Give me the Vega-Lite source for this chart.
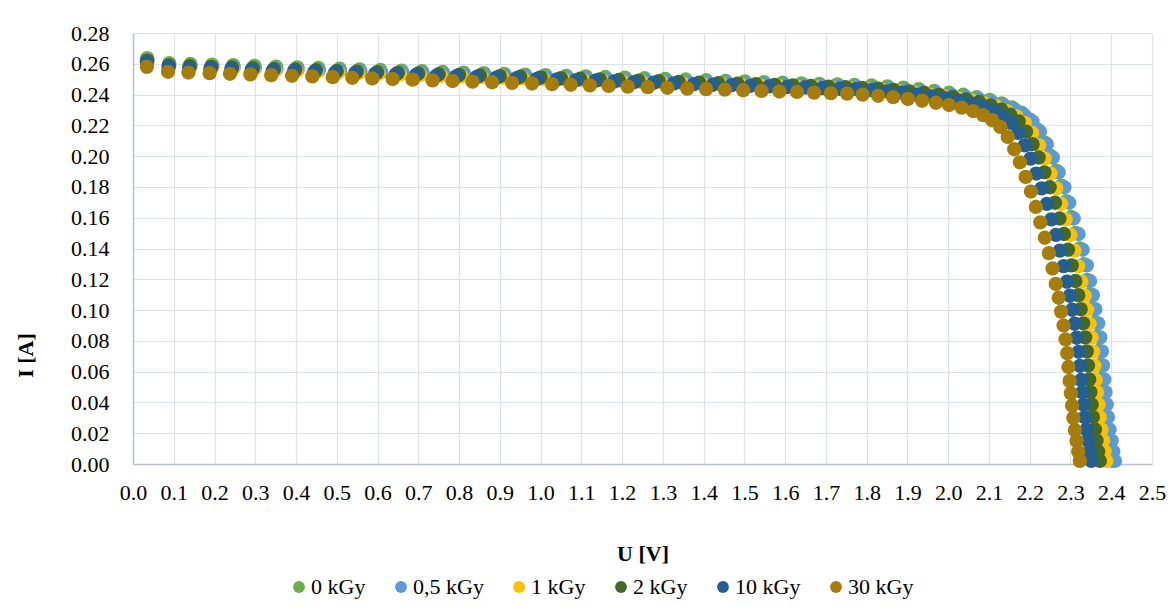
{
"$schema": "https://vega.github.io/schema/vega-lite/v6.json",
"width": 1019, "height": 431,
"autosize": {"type": "none"},
"padding": {"left": 133, "top": 33, "right": 20, "bottom": 145},
"background": "white",
"config": {"view": {"stroke": null}, "font": "Liberation Serif"},
"data": {"values": [
{"s":"0 kGy","u":0.035,"i":0.2637},{"s":"0 kGy","u":0.089,"i":0.2604},{"s":"0 kGy","u":0.141,"i":0.2599},{"s":"0 kGy","u":0.194,"i":0.2595},{"s":"0 kGy","u":0.246,"i":0.2591},{"s":"0 kGy","u":0.298,"i":0.2587},{"s":"0 kGy","u":0.351,"i":0.2582},{"s":"0 kGy","u":0.403,"i":0.2577},{"s":"0 kGy","u":0.455,"i":0.2573},{"s":"0 kGy","u":0.507,"i":0.2568},{"s":"0 kGy","u":0.556,"i":0.2564},{"s":"0 kGy","u":0.607,"i":0.2560},{"s":"0 kGy","u":0.659,"i":0.2556},{"s":"0 kGy","u":0.709,"i":0.2552},{"s":"0 kGy","u":0.760,"i":0.2547},{"s":"0 kGy","u":0.811,"i":0.2543},{"s":"0 kGy","u":0.861,"i":0.2539},{"s":"0 kGy","u":0.911,"i":0.2535},{"s":"0 kGy","u":0.962,"i":0.2530},{"s":"0 kGy","u":1.012,"i":0.2526},{"s":"0 kGy","u":1.063,"i":0.2522},{"s":"0 kGy","u":1.111,"i":0.2518},{"s":"0 kGy","u":1.159,"i":0.2514},{"s":"0 kGy","u":1.207,"i":0.2510},{"s":"0 kGy","u":1.255,"i":0.2506},{"s":"0 kGy","u":1.306,"i":0.2502},{"s":"0 kGy","u":1.356,"i":0.2498},{"s":"0 kGy","u":1.406,"i":0.2493},{"s":"0 kGy","u":1.454,"i":0.2489},{"s":"0 kGy","u":1.501,"i":0.2486},{"s":"0 kGy","u":1.548,"i":0.2481},{"s":"0 kGy","u":1.594,"i":0.2477},{"s":"0 kGy","u":1.640,"i":0.2473},{"s":"0 kGy","u":1.684,"i":0.2470},{"s":"0 kGy","u":1.728,"i":0.2466},{"s":"0 kGy","u":1.770,"i":0.2462},{"s":"0 kGy","u":1.812,"i":0.2459},{"s":"0 kGy","u":1.851,"i":0.2453},{"s":"0 kGy","u":1.890,"i":0.2445},{"s":"0 kGy","u":1.928,"i":0.2435},{"s":"0 kGy","u":1.966,"i":0.2424},{"s":"0 kGy","u":2.002,"i":0.2412},{"s":"0 kGy","u":2.037,"i":0.2399},{"s":"0 kGy","u":2.070,"i":0.2383},{"s":"0 kGy","u":2.102,"i":0.2366},{"s":"0 kGy","u":2.131,"i":0.2343},{"s":"0 kGy","u":2.157,"i":0.2316},{"s":"0 kGy","u":2.180,"i":0.2282},{"s":"0 kGy","u":2.200,"i":0.2238},{"s":"0 kGy","u":2.219,"i":0.2172},{"s":"0 kGy","u":2.236,"i":0.2090},{"s":"0 kGy","u":2.250,"i":0.2003},{"s":"0 kGy","u":2.265,"i":0.1906},{"s":"0 kGy","u":2.278,"i":0.1809},{"s":"0 kGy","u":2.290,"i":0.1707},{"s":"0 kGy","u":2.302,"i":0.1605},{"s":"0 kGy","u":2.313,"i":0.1502},{"s":"0 kGy","u":2.323,"i":0.1400},{"s":"0 kGy","u":2.333,"i":0.1298},{"s":"0 kGy","u":2.341,"i":0.1196},{"s":"0 kGy","u":2.348,"i":0.1104},{"s":"0 kGy","u":2.354,"i":0.1012},{"s":"0 kGy","u":2.361,"i":0.0920},{"s":"0 kGy","u":2.366,"i":0.0828},{"s":"0 kGy","u":2.370,"i":0.0736},{"s":"0 kGy","u":2.373,"i":0.0644},{"s":"0 kGy","u":2.376,"i":0.0552},{"s":"0 kGy","u":2.379,"i":0.0470},{"s":"0 kGy","u":2.382,"i":0.0388},{"s":"0 kGy","u":2.385,"i":0.0307},{"s":"0 kGy","u":2.390,"i":0.0225},{"s":"0 kGy","u":2.394,"i":0.0153},{"s":"0 kGy","u":2.398,"i":0.0082},{"s":"0 kGy","u":2.402,"i":0.0020},
{"s":"0,5 kGy","u":0.035,"i":0.2621},{"s":"0,5 kGy","u":0.089,"i":0.2589},{"s":"0,5 kGy","u":0.141,"i":0.2584},{"s":"0,5 kGy","u":0.195,"i":0.2580},{"s":"0,5 kGy","u":0.247,"i":0.2576},{"s":"0,5 kGy","u":0.299,"i":0.2571},{"s":"0,5 kGy","u":0.352,"i":0.2566},{"s":"0,5 kGy","u":0.404,"i":0.2562},{"s":"0,5 kGy","u":0.456,"i":0.2558},{"s":"0,5 kGy","u":0.508,"i":0.2553},{"s":"0,5 kGy","u":0.558,"i":0.2549},{"s":"0,5 kGy","u":0.609,"i":0.2545},{"s":"0,5 kGy","u":0.661,"i":0.2541},{"s":"0,5 kGy","u":0.711,"i":0.2537},{"s":"0,5 kGy","u":0.762,"i":0.2532},{"s":"0,5 kGy","u":0.813,"i":0.2528},{"s":"0,5 kGy","u":0.864,"i":0.2524},{"s":"0,5 kGy","u":0.914,"i":0.2520},{"s":"0,5 kGy","u":0.964,"i":0.2516},{"s":"0,5 kGy","u":1.015,"i":0.2512},{"s":"0,5 kGy","u":1.066,"i":0.2507},{"s":"0,5 kGy","u":1.114,"i":0.2503},{"s":"0,5 kGy","u":1.163,"i":0.2499},{"s":"0,5 kGy","u":1.210,"i":0.2495},{"s":"0,5 kGy","u":1.259,"i":0.2491},{"s":"0,5 kGy","u":1.310,"i":0.2487},{"s":"0,5 kGy","u":1.360,"i":0.2483},{"s":"0,5 kGy","u":1.410,"i":0.2478},{"s":"0,5 kGy","u":1.458,"i":0.2474},{"s":"0,5 kGy","u":1.506,"i":0.2471},{"s":"0,5 kGy","u":1.552,"i":0.2467},{"s":"0,5 kGy","u":1.599,"i":0.2463},{"s":"0,5 kGy","u":1.645,"i":0.2459},{"s":"0,5 kGy","u":1.689,"i":0.2456},{"s":"0,5 kGy","u":1.733,"i":0.2452},{"s":"0,5 kGy","u":1.775,"i":0.2448},{"s":"0,5 kGy","u":1.817,"i":0.2444},{"s":"0,5 kGy","u":1.856,"i":0.2438},{"s":"0,5 kGy","u":1.896,"i":0.2430},{"s":"0,5 kGy","u":1.934,"i":0.2421},{"s":"0,5 kGy","u":1.971,"i":0.2410},{"s":"0,5 kGy","u":2.008,"i":0.2398},{"s":"0,5 kGy","u":2.043,"i":0.2385},{"s":"0,5 kGy","u":2.076,"i":0.2369},{"s":"0,5 kGy","u":2.108,"i":0.2352},{"s":"0,5 kGy","u":2.137,"i":0.2330},{"s":"0,5 kGy","u":2.163,"i":0.2302},{"s":"0,5 kGy","u":2.186,"i":0.2269},{"s":"0,5 kGy","u":2.207,"i":0.2225},{"s":"0,5 kGy","u":2.225,"i":0.2159},{"s":"0,5 kGy","u":2.242,"i":0.2078},{"s":"0,5 kGy","u":2.257,"i":0.1991},{"s":"0,5 kGy","u":2.271,"i":0.1895},{"s":"0,5 kGy","u":2.285,"i":0.1798},{"s":"0,5 kGy","u":2.297,"i":0.1697},{"s":"0,5 kGy","u":2.308,"i":0.1595},{"s":"0,5 kGy","u":2.320,"i":0.1494},{"s":"0,5 kGy","u":2.330,"i":0.1392},{"s":"0,5 kGy","u":2.340,"i":0.1290},{"s":"0,5 kGy","u":2.348,"i":0.1189},{"s":"0,5 kGy","u":2.355,"i":0.1097},{"s":"0,5 kGy","u":2.361,"i":0.1006},{"s":"0,5 kGy","u":2.368,"i":0.0914},{"s":"0,5 kGy","u":2.373,"i":0.0823},{"s":"0,5 kGy","u":2.377,"i":0.0732},{"s":"0,5 kGy","u":2.380,"i":0.0640},{"s":"0,5 kGy","u":2.383,"i":0.0549},{"s":"0,5 kGy","u":2.386,"i":0.0467},{"s":"0,5 kGy","u":2.389,"i":0.0386},{"s":"0,5 kGy","u":2.392,"i":0.0305},{"s":"0,5 kGy","u":2.396,"i":0.0224},{"s":"0,5 kGy","u":2.401,"i":0.0152},{"s":"0,5 kGy","u":2.405,"i":0.0081},{"s":"0,5 kGy","u":2.409,"i":0.0020},
{"s":"1 kGy","u":0.035,"i":0.2611},{"s":"1 kGy","u":0.088,"i":0.2579},{"s":"1 kGy","u":0.140,"i":0.2574},{"s":"1 kGy","u":0.193,"i":0.2569},{"s":"1 kGy","u":0.245,"i":0.2565},{"s":"1 kGy","u":0.296,"i":0.2561},{"s":"1 kGy","u":0.349,"i":0.2556},{"s":"1 kGy","u":0.401,"i":0.2552},{"s":"1 kGy","u":0.452,"i":0.2548},{"s":"1 kGy","u":0.504,"i":0.2543},{"s":"1 kGy","u":0.553,"i":0.2539},{"s":"1 kGy","u":0.603,"i":0.2535},{"s":"1 kGy","u":0.655,"i":0.2531},{"s":"1 kGy","u":0.705,"i":0.2527},{"s":"1 kGy","u":0.756,"i":0.2522},{"s":"1 kGy","u":0.806,"i":0.2518},{"s":"1 kGy","u":0.856,"i":0.2514},{"s":"1 kGy","u":0.906,"i":0.2510},{"s":"1 kGy","u":0.956,"i":0.2506},{"s":"1 kGy","u":1.006,"i":0.2502},{"s":"1 kGy","u":1.057,"i":0.2498},{"s":"1 kGy","u":1.104,"i":0.2494},{"s":"1 kGy","u":1.152,"i":0.2490},{"s":"1 kGy","u":1.200,"i":0.2485},{"s":"1 kGy","u":1.248,"i":0.2481},{"s":"1 kGy","u":1.298,"i":0.2477},{"s":"1 kGy","u":1.348,"i":0.2473},{"s":"1 kGy","u":1.398,"i":0.2468},{"s":"1 kGy","u":1.445,"i":0.2464},{"s":"1 kGy","u":1.493,"i":0.2461},{"s":"1 kGy","u":1.539,"i":0.2457},{"s":"1 kGy","u":1.585,"i":0.2453},{"s":"1 kGy","u":1.630,"i":0.2449},{"s":"1 kGy","u":1.675,"i":0.2446},{"s":"1 kGy","u":1.718,"i":0.2442},{"s":"1 kGy","u":1.760,"i":0.2438},{"s":"1 kGy","u":1.801,"i":0.2435},{"s":"1 kGy","u":1.840,"i":0.2429},{"s":"1 kGy","u":1.879,"i":0.2421},{"s":"1 kGy","u":1.917,"i":0.2412},{"s":"1 kGy","u":1.954,"i":0.2400},{"s":"1 kGy","u":1.990,"i":0.2388},{"s":"1 kGy","u":2.025,"i":0.2375},{"s":"1 kGy","u":2.058,"i":0.2360},{"s":"1 kGy","u":2.090,"i":0.2343},{"s":"1 kGy","u":2.119,"i":0.2321},{"s":"1 kGy","u":2.144,"i":0.2293},{"s":"1 kGy","u":2.167,"i":0.2260},{"s":"1 kGy","u":2.188,"i":0.2216},{"s":"1 kGy","u":2.206,"i":0.2151},{"s":"1 kGy","u":2.223,"i":0.2070},{"s":"1 kGy","u":2.237,"i":0.1984},{"s":"1 kGy","u":2.251,"i":0.1887},{"s":"1 kGy","u":2.265,"i":0.1791},{"s":"1 kGy","u":2.277,"i":0.1690},{"s":"1 kGy","u":2.288,"i":0.1589},{"s":"1 kGy","u":2.300,"i":0.1488},{"s":"1 kGy","u":2.310,"i":0.1386},{"s":"1 kGy","u":2.319,"i":0.1285},{"s":"1 kGy","u":2.327,"i":0.1184},{"s":"1 kGy","u":2.335,"i":0.1093},{"s":"1 kGy","u":2.341,"i":0.1002},{"s":"1 kGy","u":2.347,"i":0.0911},{"s":"1 kGy","u":2.352,"i":0.0820},{"s":"1 kGy","u":2.356,"i":0.0729},{"s":"1 kGy","u":2.359,"i":0.0638},{"s":"1 kGy","u":2.362,"i":0.0546},{"s":"1 kGy","u":2.365,"i":0.0466},{"s":"1 kGy","u":2.369,"i":0.0385},{"s":"1 kGy","u":2.372,"i":0.0304},{"s":"1 kGy","u":2.376,"i":0.0223},{"s":"1 kGy","u":2.380,"i":0.0152},{"s":"1 kGy","u":2.384,"i":0.0081},{"s":"1 kGy","u":2.388,"i":0.0020},
{"s":"2 kGy","u":0.035,"i":0.2621},{"s":"2 kGy","u":0.088,"i":0.2589},{"s":"2 kGy","u":0.139,"i":0.2584},{"s":"2 kGy","u":0.192,"i":0.2580},{"s":"2 kGy","u":0.243,"i":0.2576},{"s":"2 kGy","u":0.294,"i":0.2571},{"s":"2 kGy","u":0.346,"i":0.2566},{"s":"2 kGy","u":0.398,"i":0.2562},{"s":"2 kGy","u":0.449,"i":0.2558},{"s":"2 kGy","u":0.500,"i":0.2553},{"s":"2 kGy","u":0.549,"i":0.2549},{"s":"2 kGy","u":0.599,"i":0.2545},{"s":"2 kGy","u":0.650,"i":0.2541},{"s":"2 kGy","u":0.700,"i":0.2537},{"s":"2 kGy","u":0.750,"i":0.2532},{"s":"2 kGy","u":0.800,"i":0.2528},{"s":"2 kGy","u":0.851,"i":0.2524},{"s":"2 kGy","u":0.900,"i":0.2520},{"s":"2 kGy","u":0.950,"i":0.2516},{"s":"2 kGy","u":1.000,"i":0.2512},{"s":"2 kGy","u":1.050,"i":0.2507},{"s":"2 kGy","u":1.097,"i":0.2503},{"s":"2 kGy","u":1.145,"i":0.2499},{"s":"2 kGy","u":1.192,"i":0.2495},{"s":"2 kGy","u":1.240,"i":0.2491},{"s":"2 kGy","u":1.290,"i":0.2487},{"s":"2 kGy","u":1.339,"i":0.2483},{"s":"2 kGy","u":1.389,"i":0.2478},{"s":"2 kGy","u":1.436,"i":0.2474},{"s":"2 kGy","u":1.483,"i":0.2471},{"s":"2 kGy","u":1.528,"i":0.2467},{"s":"2 kGy","u":1.574,"i":0.2463},{"s":"2 kGy","u":1.619,"i":0.2459},{"s":"2 kGy","u":1.663,"i":0.2456},{"s":"2 kGy","u":1.706,"i":0.2452},{"s":"2 kGy","u":1.748,"i":0.2448},{"s":"2 kGy","u":1.789,"i":0.2444},{"s":"2 kGy","u":1.828,"i":0.2438},{"s":"2 kGy","u":1.866,"i":0.2430},{"s":"2 kGy","u":1.904,"i":0.2421},{"s":"2 kGy","u":1.941,"i":0.2410},{"s":"2 kGy","u":1.977,"i":0.2398},{"s":"2 kGy","u":2.011,"i":0.2385},{"s":"2 kGy","u":2.044,"i":0.2369},{"s":"2 kGy","u":2.076,"i":0.2352},{"s":"2 kGy","u":2.104,"i":0.2330},{"s":"2 kGy","u":2.130,"i":0.2302},{"s":"2 kGy","u":2.152,"i":0.2269},{"s":"2 kGy","u":2.173,"i":0.2225},{"s":"2 kGy","u":2.191,"i":0.2159},{"s":"2 kGy","u":2.207,"i":0.2078},{"s":"2 kGy","u":2.222,"i":0.1991},{"s":"2 kGy","u":2.236,"i":0.1895},{"s":"2 kGy","u":2.249,"i":0.1798},{"s":"2 kGy","u":2.262,"i":0.1697},{"s":"2 kGy","u":2.273,"i":0.1595},{"s":"2 kGy","u":2.284,"i":0.1494},{"s":"2 kGy","u":2.294,"i":0.1392},{"s":"2 kGy","u":2.303,"i":0.1290},{"s":"2 kGy","u":2.312,"i":0.1189},{"s":"2 kGy","u":2.319,"i":0.1097},{"s":"2 kGy","u":2.325,"i":0.1006},{"s":"2 kGy","u":2.331,"i":0.0914},{"s":"2 kGy","u":2.336,"i":0.0823},{"s":"2 kGy","u":2.340,"i":0.0732},{"s":"2 kGy","u":2.343,"i":0.0640},{"s":"2 kGy","u":2.346,"i":0.0549},{"s":"2 kGy","u":2.349,"i":0.0467},{"s":"2 kGy","u":2.352,"i":0.0386},{"s":"2 kGy","u":2.355,"i":0.0305},{"s":"2 kGy","u":2.360,"i":0.0224},{"s":"2 kGy","u":2.364,"i":0.0152},{"s":"2 kGy","u":2.368,"i":0.0081},{"s":"2 kGy","u":2.372,"i":0.0020},
{"s":"10 kGy","u":0.034,"i":0.2611},{"s":"10 kGy","u":0.087,"i":0.2579},{"s":"10 kGy","u":0.138,"i":0.2574},{"s":"10 kGy","u":0.190,"i":0.2569},{"s":"10 kGy","u":0.241,"i":0.2565},{"s":"10 kGy","u":0.291,"i":0.2561},{"s":"10 kGy","u":0.343,"i":0.2556},{"s":"10 kGy","u":0.395,"i":0.2552},{"s":"10 kGy","u":0.445,"i":0.2548},{"s":"10 kGy","u":0.496,"i":0.2543},{"s":"10 kGy","u":0.545,"i":0.2539},{"s":"10 kGy","u":0.594,"i":0.2535},{"s":"10 kGy","u":0.645,"i":0.2531},{"s":"10 kGy","u":0.694,"i":0.2527},{"s":"10 kGy","u":0.744,"i":0.2522},{"s":"10 kGy","u":0.793,"i":0.2518},{"s":"10 kGy","u":0.843,"i":0.2514},{"s":"10 kGy","u":0.892,"i":0.2510},{"s":"10 kGy","u":0.941,"i":0.2506},{"s":"10 kGy","u":0.991,"i":0.2502},{"s":"10 kGy","u":1.040,"i":0.2498},{"s":"10 kGy","u":1.087,"i":0.2494},{"s":"10 kGy","u":1.135,"i":0.2490},{"s":"10 kGy","u":1.181,"i":0.2485},{"s":"10 kGy","u":1.229,"i":0.2481},{"s":"10 kGy","u":1.278,"i":0.2477},{"s":"10 kGy","u":1.327,"i":0.2473},{"s":"10 kGy","u":1.376,"i":0.2468},{"s":"10 kGy","u":1.423,"i":0.2464},{"s":"10 kGy","u":1.469,"i":0.2461},{"s":"10 kGy","u":1.515,"i":0.2457},{"s":"10 kGy","u":1.561,"i":0.2453},{"s":"10 kGy","u":1.605,"i":0.2449},{"s":"10 kGy","u":1.649,"i":0.2446},{"s":"10 kGy","u":1.691,"i":0.2442},{"s":"10 kGy","u":1.733,"i":0.2438},{"s":"10 kGy","u":1.773,"i":0.2435},{"s":"10 kGy","u":1.812,"i":0.2429},{"s":"10 kGy","u":1.850,"i":0.2421},{"s":"10 kGy","u":1.887,"i":0.2412},{"s":"10 kGy","u":1.924,"i":0.2400},{"s":"10 kGy","u":1.959,"i":0.2388},{"s":"10 kGy","u":1.994,"i":0.2375},{"s":"10 kGy","u":2.026,"i":0.2360},{"s":"10 kGy","u":2.057,"i":0.2343},{"s":"10 kGy","u":2.086,"i":0.2321},{"s":"10 kGy","u":2.111,"i":0.2293},{"s":"10 kGy","u":2.133,"i":0.2260},{"s":"10 kGy","u":2.154,"i":0.2216},{"s":"10 kGy","u":2.172,"i":0.2151},{"s":"10 kGy","u":2.188,"i":0.2070},{"s":"10 kGy","u":2.202,"i":0.1984},{"s":"10 kGy","u":2.216,"i":0.1887},{"s":"10 kGy","u":2.229,"i":0.1791},{"s":"10 kGy","u":2.242,"i":0.1690},{"s":"10 kGy","u":2.253,"i":0.1589},{"s":"10 kGy","u":2.264,"i":0.1488},{"s":"10 kGy","u":2.274,"i":0.1386},{"s":"10 kGy","u":2.283,"i":0.1285},{"s":"10 kGy","u":2.291,"i":0.1184},{"s":"10 kGy","u":2.298,"i":0.1093},{"s":"10 kGy","u":2.304,"i":0.1002},{"s":"10 kGy","u":2.310,"i":0.0911},{"s":"10 kGy","u":2.315,"i":0.0820},{"s":"10 kGy","u":2.320,"i":0.0729},{"s":"10 kGy","u":2.323,"i":0.0638},{"s":"10 kGy","u":2.326,"i":0.0546},{"s":"10 kGy","u":2.329,"i":0.0466},{"s":"10 kGy","u":2.332,"i":0.0385},{"s":"10 kGy","u":2.335,"i":0.0304},{"s":"10 kGy","u":2.339,"i":0.0223},{"s":"10 kGy","u":2.343,"i":0.0152},{"s":"10 kGy","u":2.347,"i":0.0081},{"s":"10 kGy","u":2.351,"i":0.0020},
{"s":"30 kGy","u":0.034,"i":0.2580},{"s":"30 kGy","u":0.086,"i":0.2548},{"s":"30 kGy","u":0.136,"i":0.2543},{"s":"30 kGy","u":0.188,"i":0.2539},{"s":"30 kGy","u":0.238,"i":0.2535},{"s":"30 kGy","u":0.288,"i":0.2531},{"s":"30 kGy","u":0.339,"i":0.2526},{"s":"30 kGy","u":0.390,"i":0.2522},{"s":"30 kGy","u":0.440,"i":0.2518},{"s":"30 kGy","u":0.490,"i":0.2513},{"s":"30 kGy","u":0.538,"i":0.2509},{"s":"30 kGy","u":0.587,"i":0.2505},{"s":"30 kGy","u":0.637,"i":0.2501},{"s":"30 kGy","u":0.686,"i":0.2497},{"s":"30 kGy","u":0.735,"i":0.2492},{"s":"30 kGy","u":0.784,"i":0.2488},{"s":"30 kGy","u":0.833,"i":0.2484},{"s":"30 kGy","u":0.881,"i":0.2480},{"s":"30 kGy","u":0.930,"i":0.2476},{"s":"30 kGy","u":0.979,"i":0.2472},{"s":"30 kGy","u":1.028,"i":0.2468},{"s":"30 kGy","u":1.074,"i":0.2464},{"s":"30 kGy","u":1.121,"i":0.2460},{"s":"30 kGy","u":1.167,"i":0.2456},{"s":"30 kGy","u":1.214,"i":0.2452},{"s":"30 kGy","u":1.263,"i":0.2448},{"s":"30 kGy","u":1.311,"i":0.2444},{"s":"30 kGy","u":1.360,"i":0.2439},{"s":"30 kGy","u":1.406,"i":0.2435},{"s":"30 kGy","u":1.452,"i":0.2432},{"s":"30 kGy","u":1.497,"i":0.2428},{"s":"30 kGy","u":1.542,"i":0.2424},{"s":"30 kGy","u":1.586,"i":0.2420},{"s":"30 kGy","u":1.629,"i":0.2417},{"s":"30 kGy","u":1.671,"i":0.2413},{"s":"30 kGy","u":1.712,"i":0.2409},{"s":"30 kGy","u":1.752,"i":0.2406},{"s":"30 kGy","u":1.790,"i":0.2400},{"s":"30 kGy","u":1.828,"i":0.2392},{"s":"30 kGy","u":1.865,"i":0.2383},{"s":"30 kGy","u":1.901,"i":0.2372},{"s":"30 kGy","u":1.936,"i":0.2360},{"s":"30 kGy","u":1.970,"i":0.2347},{"s":"30 kGy","u":2.002,"i":0.2332},{"s":"30 kGy","u":2.033,"i":0.2315},{"s":"30 kGy","u":2.061,"i":0.2293},{"s":"30 kGy","u":2.086,"i":0.2266},{"s":"30 kGy","u":2.108,"i":0.2233},{"s":"30 kGy","u":2.128,"i":0.2190},{"s":"30 kGy","u":2.146,"i":0.2125},{"s":"30 kGy","u":2.162,"i":0.2045},{"s":"30 kGy","u":2.176,"i":0.1960},{"s":"30 kGy","u":2.190,"i":0.1865},{"s":"30 kGy","u":2.203,"i":0.1770},{"s":"30 kGy","u":2.215,"i":0.1670},{"s":"30 kGy","u":2.226,"i":0.1570},{"s":"30 kGy","u":2.237,"i":0.1470},{"s":"30 kGy","u":2.247,"i":0.1370},{"s":"30 kGy","u":2.256,"i":0.1270},{"s":"30 kGy","u":2.264,"i":0.1170},{"s":"30 kGy","u":2.271,"i":0.1080},{"s":"30 kGy","u":2.277,"i":0.0990},{"s":"30 kGy","u":2.283,"i":0.0900},{"s":"30 kGy","u":2.288,"i":0.0810},{"s":"30 kGy","u":2.292,"i":0.0720},{"s":"30 kGy","u":2.295,"i":0.0630},{"s":"30 kGy","u":2.298,"i":0.0540},{"s":"30 kGy","u":2.301,"i":0.0460},{"s":"30 kGy","u":2.304,"i":0.0380},{"s":"30 kGy","u":2.307,"i":0.0300},{"s":"30 kGy","u":2.311,"i":0.0220},{"s":"30 kGy","u":2.315,"i":0.0150},{"s":"30 kGy","u":2.319,"i":0.0080},{"s":"30 kGy","u":2.323,"i":0.0020}
]},
"mark": {"type": "point", "filled": true, "opacity": 1, "size": 205, "shape": "circle", "strokeWidth": 0},
"encoding": {
  "x": {"field": "u", "type": "quantitative",
    "scale": {"domain": [0, 2.5], "nice": false, "zero": false},
    "axis": {"title": "U [V]", "values": [0,0.1,0.2,0.3,0.4,0.5,0.6,0.7,0.8,0.9,1.0,1.1,1.2,1.3,1.4,1.5,1.6,1.7,1.8,1.9,2.0,2.1,2.2,2.3,2.4,2.5],
      "format": ".1f", "labelFont": "Liberation Serif", "labelFontSize": 22, "labelColor": "#000000",
      "labelPadding": 28, "labelBaseline": "middle", "labelFlush": false, "labelOverlap": false, "labelBound": false,
      "ticks": false, "domainColor": "#B9C1CE", "domainWidth": 1.5, "grid": true, "gridColor": "#DDE1E9", "gridWidth": 1.2,
      "titleFont": "Liberation Serif", "titleFontSize": 22, "titleFontWeight": "bold", "titleColor": "#000000",
      "titleY": 89, "titleBaseline": "middle"}},
  "y": {"field": "i", "type": "quantitative",
    "scale": {"domain": [0, 0.28], "nice": false, "zero": false},
    "axis": {"title": "I [A]", "values": [0,0.02,0.04,0.06,0.08,0.10,0.12,0.14,0.16,0.18,0.20,0.22,0.24,0.26,0.28],
      "format": ".2f", "labelFont": "Liberation Serif", "labelFontSize": 22, "labelColor": "#000000",
      "labelPadding": 24, "labelFlush": false, "labelOverlap": false, "labelBound": false,
      "ticks": false, "domainColor": "#B9C1CE", "domainWidth": 1.5, "grid": true, "gridColor": "#DDE1E9", "gridWidth": 1.2,
      "titleFont": "Liberation Serif", "titleFontSize": 22, "titleFontWeight": "bold", "titleColor": "#000000",
      "titleX": -108, "titleY": 322, "titleAngle": -90, "titleAlign": "center", "titleBaseline": "middle"}},
  "color": {"field": "s", "type": "nominal",
    "scale": {"domain": ["0 kGy", "0,5 kGy", "1 kGy", "2 kGy", "10 kGy", "30 kGy"],
              "range": ["#70AD47", "#5B9BD5", "#FFC000", "#43682B", "#255E91", "#A67C0A"]},
    "legend": {"title": null, "orient": "none", "legendX": 155, "legendY": 543, "direction": "horizontal",
      "symbolType": "circle", "symbolSize": 140, "symbolStrokeWidth": 0, "labelFont": "Liberation Serif", "labelFontSize": 22,
      "labelColor": "#000000", "columnPadding": 24, "labelOffset": 1, "padding": 0}}
}
}
